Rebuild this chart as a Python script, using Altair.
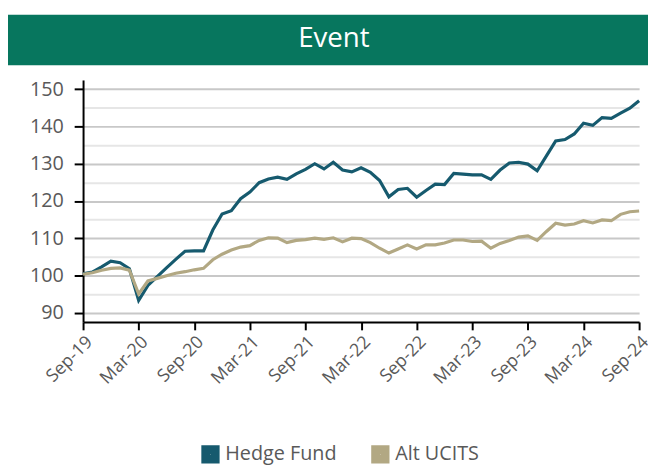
import altair as alt
import pandas as pd

# ---- data ----
months = pd.date_range("2019-09-01", "2024-09-01", freq="MS").strftime("%b-%y").tolist()

hedge_fund = [100.4, 100.9, 102.3, 103.8, 103.4, 101.8, 93.3, 97.3, 99.7, 102.0,
              104.3, 106.5, 106.6, 106.6, 112.2, 116.5, 117.4, 120.6, 122.4, 124.9,
              125.9, 126.4, 125.8, 127.3, 128.5, 130.0, 128.6, 130.4, 128.3, 127.8,
              128.9, 127.7, 125.5, 121.1, 123.1, 123.4, 121.0, 122.8, 124.5, 124.4,
              127.4, 127.2, 127.0, 127.0, 125.8, 128.3, 130.2, 130.4, 129.9, 128.1,
              132.1, 136.1, 136.5, 138.0, 140.9, 140.3, 142.4, 142.2, 143.6, 144.9,
              146.9]

alt_ucits = [100.3, 100.7, 101.4, 101.9, 102.0, 101.4, 95.0, 98.5, 99.2, 99.9,
             100.6, 101.0, 101.5, 101.9, 104.2, 105.7, 106.8, 107.6, 108.0, 109.4,
             110.1, 110.0, 108.8, 109.4, 109.6, 110.0, 109.7, 110.1, 109.0, 110.0,
             109.9, 108.8, 107.3, 106.0, 107.1, 108.2, 107.1, 108.2, 108.2, 108.7,
             109.5, 109.5, 109.1, 109.2, 107.3, 108.6, 109.4, 110.3, 110.6, 109.4,
             111.8, 114.0, 113.5, 113.8, 114.7, 114.1, 114.9, 114.7, 116.4, 117.1,
             117.3]

series_names = ["Hedge Fund", "Alt UCITS"]
series_colors = ["#165A6E", "#B2A883"]
tick_labels = ["Sep-19", "Mar-20", "Sep-20", "Mar-21", "Sep-21", "Mar-22",
               "Sep-22", "Mar-23", "Sep-23", "Mar-24", "Sep-24"]
chart_title = "Event"

rows = []
for i, m in enumerate(months):
    rows.append({"idx": i, "month": m, "series": series_names[0], "value": hedge_fund[i]})
    rows.append({"idx": i, "month": m, "series": series_names[1], "value": alt_ucits[i]})
df = pd.DataFrame(rows)

FONT = "Open Sans"
GRAY = "#595959"

label_js = "[" + ",".join(f"'{t}'" for t in tick_labels) + "]"
grid_values = list(range(90, 151, 5))

x_enc = alt.X(
    "idx:Q",
    scale=alt.Scale(domain=[0, len(months) - 1], nice=False, zero=False),
    axis=alt.Axis(
        values=list(range(0, len(months), 6)),
        labelExpr=f"{label_js}[round(datum.value/6)]",
        labelAngle=-45,
        title=None,
        grid=False,
        tickSize=8,
        tickWidth=2,
        tickColor="black",
        domainColor="black",
        domainWidth=2,
        labelFont=FONT,
        labelFontSize=18,
        labelColor=GRAY,
        labelPadding=3,
    ),
)

y_enc = alt.Y(
    "value:Q",
    scale=alt.Scale(domain=[87.5, 152.5], nice=False, zero=False),
    axis=alt.Axis(
        values=grid_values,
        labelExpr="datum.value % 10 == 0 ? datum.label : ''",
        title=None,
        grid=True,
        gridColor={"condition": {"test": "datum.value % 10 == 0", "value": "#c8c8c8"},
                   "value": "#e6e6e6"},
        gridWidth=2,
        tickColor={"condition": {"test": "datum.value % 10 == 0", "value": "black"},
                   "value": "transparent"},
        tickSize=9,
        tickWidth=2,
        domainColor="black",
        domainWidth=2,
        labelFont=FONT,
        labelFontSize=20,
        labelColor=GRAY,
        labelPadding=11,
    ),
)

lines = alt.Chart(df).mark_line(strokeWidth=3.2).encode(
    x=x_enc,
    y=y_enc,
    color=alt.Color(
        "series:N",
        scale=alt.Scale(domain=series_names, range=series_colors),
        legend=alt.Legend(
            title=None,
            orient="none",
            legendX=119,
            legendY=369,
            direction="horizontal",
            symbolType="square",
            symbolSize=90,
            symbolStrokeWidth=9,
            labelFont=FONT,
            labelFontSize=20,
            labelColor=GRAY,
            labelOffset=5,
            columnPadding=21,
            padding=0,
        ),
    ),
    order="idx:Q",
)

title_df = pd.DataFrame({"t": [chart_title]})
banner = alt.Chart(title_df).mark_rect(color="#07765E").encode(
    x=alt.value(-76), x2=alt.value(572), y=alt.value(-66), y2=alt.value(-15)
)
banner_text = alt.Chart(title_df).mark_text(
    color="white", font=FONT, fontSize=28, baseline="middle", align="center"
).encode(text="t:N", x=alt.value(254), y=alt.value(-41))

chart = alt.layer(banner, banner_text, lines).properties(
    width=563,
    height=245,
    autosize=alt.AutoSizeParams(type="none"),
    padding={"left": 76, "top": 70, "right": 9, "bottom": 143},
).configure_view(stroke=None)

chart.save("out.html", embed_options={"renderer": "svg", "actions": False})
